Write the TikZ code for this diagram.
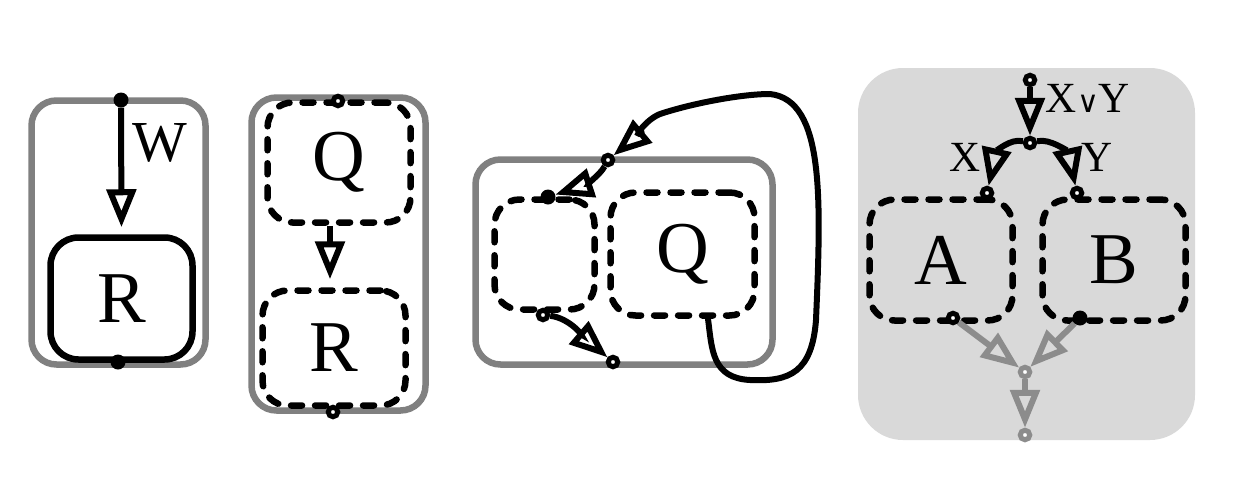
\documentclass[tikz,border=0pt]{standalone}
\usepackage{fontspec}
\setmainfont{Liberation Serif}
\newfontfamily\symfnt{DejaVu Sans}
\usetikzlibrary{arrows.meta}
\definecolor{borderg}{HTML}{808080}
\definecolor{arrg}{HTML}{8C8C8C}
\definecolor{bgg}{HTML}{D9D9D9}
\newcommand\BigLbl{\fontsize{73}{80}\selectfont}
\newcommand\MidLbl{\fontsize{58}{64}\selectfont}
\newcommand\SmLbl{\fontsize{43}{48}\selectfont}
\begin{document}
\begin{tikzpicture}[x=1pt,y=-1pt,
  gbox/.style={draw=borderg, line width=6.5pt, rounded corners=25pt, rectangle, inner sep=0pt},
  sbox/.style={draw=black, line width=6.5pt, rounded corners=28pt, rectangle, inner sep=0pt, font=\BigLbl},
  dbox/.style={draw=black, line width=6.5pt, rounded corners=25pt, rectangle, dash pattern=on 11pt off 13pt, line cap=round, inner sep=0pt, font=\BigLbl},
  ring/.style={circle, draw=black, line width=5pt, fill=white, minimum size=9.5pt, inner sep=0pt},
  gring/.style={ring, draw=arrg},
  fdot/.style={circle, fill=black, minimum size=15pt, inner sep=0pt},
  arr/.style={draw=black, line width=6pt, -{Triangle[open, length=38pt, width=29pt]}},
  garr/.style={arr, draw=arrg},
  lbl/.style={inner sep=0pt}
]
\useasboundingbox (0,0) rectangle (1257,477);

% ---------- panel 1 ----------
\node[gbox, minimum width=174pt, minimum height=264pt] (G1) at (118.5,232.5) {};
\node[sbox, minimum width=142pt, minimum height=122pt] (R1) at (121.5,298.5) {R};
\node[fdot] (d1t) at (121,100) {};
\node[fdot] (d1b) at (118,362) {};
\draw[arr, shorten >=7pt] (d1t) -- (R1.north);
\node[lbl, font=\MidLbl] (W) at (160,143) {W};

% ---------- panel 2 ----------
\node[gbox, minimum width=174pt, minimum height=313pt] (G2) at (338.5,254) {};
\node[dbox, minimum width=143pt, minimum height=120pt] (Q2) at (339,162.5) {Q};
\node[dbox, minimum width=143pt, minimum height=115pt] (R2) at (334,348) {R};
\node[ring] (d2t) at (338,101) {};
\node[ring] (d2b) at (333,412) {};
\draw[arr, shorten >=8pt] ([xshift=-9pt]Q2.south) -- ([xshift=-4pt]R2.north);

% ---------- panel 3 ----------
\node[gbox, minimum width=297pt, minimum height=205pt] (G3) at (624,262) {};
\node[dbox, minimum width=100pt, minimum height=110pt] (L3) at (544.5,254.5) {};
\node[dbox, minimum width=144pt, minimum height=123pt] (Q3) at (682.5,254) {Q};
\node[ring] (a3) at (608,160) {};
\node[fdot] (b3) at (548,197) {};
\node[ring] (c3) at (543,315) {};
\node[ring] (e3) at (613,362) {};
\draw[arr, line cap=round] ([xshift=25.5pt]Q3.south) .. controls (712,350) and (712,378) .. (750,380)
   .. controls (790,382) and (812,372) .. (816,320)
   .. controls (821,200) and (825,100) .. (770,94)
   .. controls (740,94) and (690,104) .. (660,114)
   .. controls (645,120) and (632,140) .. (a3);
\draw[arr] (a3) .. controls (600,175) and (585,185) .. (b3);
\draw[arr] (c3) .. controls (570,318) and (585,338) .. (e3);

% ---------- panel 4 ----------
\node[fill=bgg, rounded corners=45pt, rectangle, minimum width=337pt, minimum height=372pt, inner sep=0pt] (B4) at (1026.5,254) {};
\node[dbox, minimum width=143pt, minimum height=121pt] (A4) at (941,260) {A};
\node[dbox, minimum width=143pt, minimum height=121pt] (BB4) at (1114,260) {B};
\node[ring] (t4) at (1030,80) {};
\node[ring] (m4) at (1030,143) {};
\node[ring] (ra) at (987,193) {};
\node[ring] (rb) at (1077,193) {};
\node[ring] (ab) at (953,318) {};
\node[fdot] (bb) at (1080,318) {};
\node[gring] (g1) at (1025,372) {};
\node[gring] (g2) at (1025,435) {};
\draw[arr] (t4) -- (m4);
\draw[arr] (m4) .. controls (1010,138) and (996,152) .. (ra);
\draw[arr] (m4) .. controls (1050,138) and (1068,152) .. (rb);
\draw[garr] (ab) -- (g1);
\draw[garr] (bb) -- (g1);
\draw[garr] (g1) -- (g2);
\node[lbl, font=\SmLbl] (XY) at (1088,98) {X{\fontsize{30}{34}\symfnt ∨}Y};
\node[lbl, font=\SmLbl] (Xl) at (965,157) {X};
\node[lbl, font=\SmLbl] (Yl) at (1097,157) {Y};
\end{tikzpicture}
\end{document}
